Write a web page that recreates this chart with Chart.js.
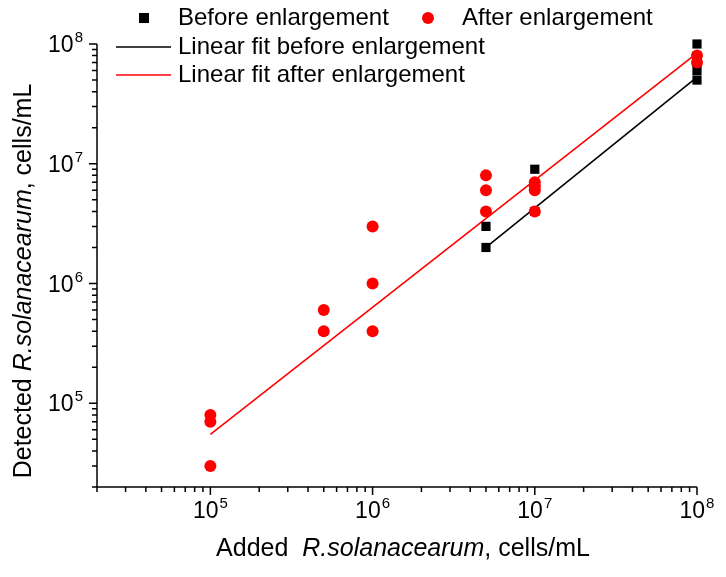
<!DOCTYPE html>
<html>
<head>
<meta charset="utf-8">
<script src="https://cdn.jsdelivr.net/npm/chart.js@4.4.1/dist/chart.umd.min.js"></script>
<style>
  body { margin: 0; background: #fff; }
</style>
</head>
<body>
<canvas id="myChart" width="726" height="577"></canvas>
<script>
const beforeX = [5e6, 5e6, 1e7, 1e7, 1e8, 1e8, 1e8, 1e8]
const beforeY = [3e6, 2e6, 9e6, 4e6, 1e8, 7e7, 6e7, 5e7]
const afterX = [1e5, 1e5, 1e5, 5e5, 5e5, 1e6, 1e6, 1e6, 5e6, 5e6, 5e6, 1e7, 1e7, 1e7, 1e7, 1e8, 1e8]
const afterY = [8e4, 7e4, 3e4, 6e5, 4e5, 3e6, 1e6, 4e5, 8e6, 6e6, 4e6, 7e6, 6.5e6, 6e6, 4e6, 8e7, 7e7]
// fit line end points
const fitBeforeX = [5e6, 1e8]
const fitBeforeY = [2e6, 5.3e7]
const fitAfterX = [1e5, 1e8]
const fitAfterY = [5.5e4, 8.4e7]
// axes
const axisMin = 2e4
const axisMax = 1e8
const decadeTicks = [1e5, 1e6, 1e7, 1e8]
const labels = ['Before enlargement', 'After enlargement', 'Linear fit before enlargement', 'Linear fit after enlargement']

const RED = '#ff0000'
const FONT = '"Liberation Sans", Arial, sans-serif'

const toPoints = (xs, ys) => xs.map((x, i) => ({ x, y: ys[i] }))

const minorTicks = []
for (let d = 1e4; d < axisMax; d *= 10) {
  for (let m = 2; m <= 9; m++) {
    const v = d * m
    if (v >= axisMin && v < axisMax) minorTicks.push(v)
  }
}

function drawPow(ctx, x, y, exp, align) {
  ctx.font = '23px ' + FONT
  const wBase = ctx.measureText('10').width
  ctx.font = '15px ' + FONT
  const wExp = ctx.measureText(String(exp)).width
  const w = wBase + wExp + 1
  let start = align === 'center' ? x - w / 2 : x - w
  ctx.textAlign = 'left'
  ctx.textBaseline = 'alphabetic'
  ctx.font = '23px ' + FONT
  ctx.fillText('10', start, y)
  ctx.font = '15px ' + FONT
  ctx.fillText(String(exp), start + wBase + 1, y - 10)
}

function drawMixed(ctx, parts) {
  let total = 0
  for (const p of parts) {
    ctx.font = (p[1] ? 'italic ' : '') + '25px ' + FONT
    total += ctx.measureText(p[0]).width
  }
  let pos = -total / 2
  ctx.textAlign = 'left'
  ctx.textBaseline = 'middle'
  for (const p of parts) {
    ctx.font = (p[1] ? 'italic ' : '') + '25px ' + FONT
    ctx.fillText(p[0], pos, 0)
    pos += ctx.measureText(p[0]).width
  }
}

const decorations = {
  id: 'decorations',
  afterDraw: chart => {
    const ctx = chart.ctx
    const xs = chart.scales.x
    const ys = chart.scales.y
    const { left, right, top, bottom } = chart.chartArea
    ctx.save()
    ctx.strokeStyle = '#000'
    ctx.fillStyle = '#000'
    ctx.lineWidth = 1.5

    // axis lines
    ctx.beginPath()
    ctx.moveTo(left, top)
    ctx.lineTo(left, bottom)
    ctx.lineTo(right, bottom)
    ctx.stroke()

    // ticks
    ctx.beginPath()
    for (const v of minorTicks) {
      const px = xs.getPixelForValue(v)
      ctx.moveTo(px, bottom); ctx.lineTo(px, bottom + 5)
      const py = ys.getPixelForValue(v)
      ctx.moveTo(left, py); ctx.lineTo(left - 5, py)
    }
    for (const v of decadeTicks) {
      const px = xs.getPixelForValue(v)
      ctx.moveTo(px, bottom); ctx.lineTo(px, bottom + 8)
      const py = ys.getPixelForValue(v)
      ctx.moveTo(left, py); ctx.lineTo(left - 8, py)
    }
    ctx.stroke()

    // tick labels
    for (const v of decadeTicks) {
      const exp = Math.round(Math.log10(v))
      drawPow(ctx, xs.getPixelForValue(v), bottom + 31, exp, 'center')
      drawPow(ctx, left - 14, ys.getPixelForValue(v) + 8, exp, 'right')
    }

    // axis titles
    ctx.save()
    ctx.translate(403, 549)
    drawMixed(ctx, [['Added  ', false], ['R.solanacearum', true], [', cells/mL', false]])
    ctx.restore()
    ctx.save()
    ctx.translate(24, 281)
    ctx.rotate(-Math.PI / 2)
    drawMixed(ctx, [['Detected ', false], ['R.solanacearum', true], [', cells/mL', false]])
    ctx.restore()

    // legend
    ctx.font = '24px ' + FONT
    ctx.textAlign = 'left'
    ctx.textBaseline = 'middle'
    ctx.fillStyle = '#000'
    ctx.fillRect(139, 13, 10, 10)
    ctx.fillText(labels[0], 178, 18)
    ctx.fillStyle = RED
    ctx.beginPath()
    ctx.arc(428, 18, 6, 0, Math.PI * 2)
    ctx.fill()
    ctx.fillStyle = '#000'
    ctx.fillText(labels[1], 462, 18)
    ctx.lineWidth = 1.5
    ctx.strokeStyle = '#000'
    ctx.beginPath(); ctx.moveTo(116, 47); ctx.lineTo(171, 47); ctx.stroke()
    ctx.fillText(labels[2], 178, 47)
    ctx.strokeStyle = RED
    ctx.beginPath(); ctx.moveTo(116, 75); ctx.lineTo(171, 75); ctx.stroke()
    ctx.fillText(labels[3], 178, 75)
    ctx.restore()
  },
}

const data = {
  datasets: [
    {
      type: 'line',
      label: labels[2],
      data: toPoints(fitBeforeX, fitBeforeY),
      borderColor: '#000',
      borderWidth: 1.6,
      pointRadius: 0,
      clip: false,
      order: 3,
    },
    {
      type: 'line',
      label: labels[3],
      data: toPoints(fitAfterX, fitAfterY),
      borderColor: RED,
      borderWidth: 1.6,
      pointRadius: 0,
      clip: false,
      order: 2,
    },
    {
      type: 'scatter',
      label: labels[0],
      data: toPoints(beforeX, beforeY),
      pointStyle: 'rect',
      radius: 6.5,
      backgroundColor: '#000',
      borderWidth: 0,
      clip: false,
      order: 1,
    },
    {
      type: 'scatter',
      label: labels[1],
      data: toPoints(afterX, afterY),
      pointStyle: 'circle',
      radius: 6,
      backgroundColor: RED,
      borderWidth: 0,
      clip: false,
      order: 0,
    },
  ],
}

const axisCommon = {
  type: 'logarithmic',
  min: axisMin,
  max: axisMax,
  ticks: { display: false },
  grid: { display: false },
  border: { display: false },
}

const myChart = new Chart(document.getElementById('myChart'), {
  data,
  plugins: [decorations],
  options: {
    animation: false,
    responsive: false,
    layout: { padding: { top: 44, right: 29, left: 0, bottom: 0 } },
    plugins: { legend: { display: false }, tooltip: { enabled: false } },
    scales: {
      x: { ...axisCommon, position: 'bottom', afterFit: s => { s.height = 90 } },
      y: { ...axisCommon, position: 'left', afterFit: s => { s.width = 97 } },
    },
  },
})
</script>
</body>
</html>
